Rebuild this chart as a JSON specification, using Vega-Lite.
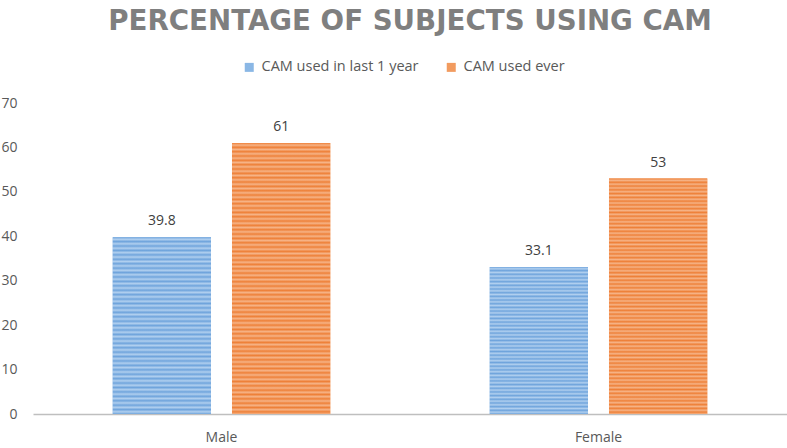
{
  "$schema": "https://vega.github.io/schema/vega-lite/v6.json",
  "width": 754,
  "height": 311,
  "autosize": "none",
  "padding": {"left": 33, "top": 103, "right": 0, "bottom": 34},
  "background": "white",
  "config": {"view": {"stroke": null}},
  "title": {
    "text": "PERCENTAGE OF SUBJECTS USING CAM",
    "font": "DejaVu Sans",
    "fontWeight": "bold",
    "fontSize": 27.7,
    "color": "#7F7F7F",
    "anchor": "middle",
    "frame": "group",
    "offset": 24
  },
  "data": {
    "values": [
      {"gender": "Male", "series": "CAM used in last 1 year", "pct": 39.8},
      {"gender": "Male", "series": "CAM used ever", "pct": 61},
      {"gender": "Female", "series": "CAM used in last 1 year", "pct": 33.1},
      {"gender": "Female", "series": "CAM used ever", "pct": 53}
    ]
  },
  "encoding": {
    "x": {
      "field": "gender",
      "type": "nominal",
      "sort": ["Male", "Female"],
      "scale": {"paddingInner": 0.423, "paddingOuter": 0.2115},
      "axis": {
        "title": null,
        "labelAngle": 0,
        "ticks": false,
        "domainColor": "#BFBFBF",
        "domainWidth": 1.5,
        "labelColor": "#595959",
        "labelFont": "Open Sans",
        "labelFontSize": 14,
        "labelPadding": 16
      }
    },
    "xOffset": {
      "field": "series",
      "type": "nominal",
      "sort": ["CAM used in last 1 year", "CAM used ever"],
      "scale": {"paddingInner": 0.176, "paddingOuter": 0}
    },
    "y": {
      "field": "pct",
      "type": "quantitative",
      "scale": {"domain": [0, 70], "nice": false},
      "axis": {
        "title": null,
        "values": [0, 10, 20, 30, 40, 50, 60, 70],
        "grid": false,
        "domain": false,
        "ticks": false,
        "labelColor": "#595959",
        "labelFont": "Open Sans",
        "labelFontSize": 14,
        "labelPadding": 16
      }
    }
  },
  "layer": [
    {
      "mark": {"type": "bar"},
      "encoding": {
        "color": {
          "field": "series",
          "type": "nominal",
          "sort": ["CAM used in last 1 year", "CAM used ever"],
          "scale": {"range": ["#8AB7E5", "#F29B5F"]},
          "legend": {
            "title": null,
            "orient": "none",
            "direction": "horizontal",
            "legendX": 209,
            "legendY": -43,
            "symbolType": "square",
            "symbolSize": 81,
            "symbolStrokeWidth": 0,
            "labelFont": "Open Sans",
            "labelFontSize": 14.5,
            "labelColor": "#595959",
            "labelOffset": 5,
            "columnPadding": 25
          }
        }
      }
    },
    {
      "mark": {"type": "bar"},
      "encoding": {
        "fill": {
          "condition": {
            "test": "datum.series == 'CAM used ever'",
            "value": {
              "gradient": "linear", "x1": 0, "y1": 0, "x2": 0, "y2": 1,
              "stops": [
                {"offset": 0, "color": "#EE8038"}, {"offset": 0.008, "color": "#F6B386"},
                {"offset": 0.016, "color": "#EE8038"}, {"offset": 0.024, "color": "#F6B386"},
                {"offset": 0.032, "color": "#EE8038"}, {"offset": 0.04, "color": "#F6B386"},
                {"offset": 0.048, "color": "#EE8038"}, {"offset": 0.056, "color": "#F6B386"},
                {"offset": 0.064, "color": "#EE8038"}, {"offset": 0.072, "color": "#F6B386"},
                {"offset": 0.08, "color": "#EE8038"}, {"offset": 0.088, "color": "#F6B386"},
                {"offset": 0.096, "color": "#EE8038"}, {"offset": 0.104, "color": "#F6B386"},
                {"offset": 0.112, "color": "#EE8038"}, {"offset": 0.12, "color": "#F6B386"},
                {"offset": 0.128, "color": "#EE8038"}, {"offset": 0.136, "color": "#F6B386"},
                {"offset": 0.144, "color": "#EE8038"}, {"offset": 0.152, "color": "#F6B386"},
                {"offset": 0.16, "color": "#EE8038"}, {"offset": 0.168, "color": "#F6B386"},
                {"offset": 0.176, "color": "#EE8038"}, {"offset": 0.184, "color": "#F6B386"},
                {"offset": 0.192, "color": "#EE8038"}, {"offset": 0.2, "color": "#F6B386"},
                {"offset": 0.208, "color": "#EE8038"}, {"offset": 0.216, "color": "#F6B386"},
                {"offset": 0.224, "color": "#EE8038"}, {"offset": 0.232, "color": "#F6B386"},
                {"offset": 0.24, "color": "#EE8038"}, {"offset": 0.248, "color": "#F6B386"},
                {"offset": 0.256, "color": "#EE8038"}, {"offset": 0.264, "color": "#F6B386"},
                {"offset": 0.272, "color": "#EE8038"}, {"offset": 0.28, "color": "#F6B386"},
                {"offset": 0.288, "color": "#EE8038"}, {"offset": 0.296, "color": "#F6B386"},
                {"offset": 0.304, "color": "#EE8038"}, {"offset": 0.312, "color": "#F6B386"},
                {"offset": 0.32, "color": "#EE8038"}, {"offset": 0.328, "color": "#F6B386"},
                {"offset": 0.336, "color": "#EE8038"}, {"offset": 0.344, "color": "#F6B386"},
                {"offset": 0.352, "color": "#EE8038"}, {"offset": 0.36, "color": "#F6B386"},
                {"offset": 0.368, "color": "#EE8038"}, {"offset": 0.376, "color": "#F6B386"},
                {"offset": 0.384, "color": "#EE8038"}, {"offset": 0.392, "color": "#F6B386"},
                {"offset": 0.4, "color": "#EE8038"}, {"offset": 0.408, "color": "#F6B386"},
                {"offset": 0.416, "color": "#EE8038"}, {"offset": 0.424, "color": "#F6B386"},
                {"offset": 0.432, "color": "#EE8038"}, {"offset": 0.44, "color": "#F6B386"},
                {"offset": 0.448, "color": "#EE8038"}, {"offset": 0.456, "color": "#F6B386"},
                {"offset": 0.464, "color": "#EE8038"}, {"offset": 0.472, "color": "#F6B386"},
                {"offset": 0.48, "color": "#EE8038"}, {"offset": 0.488, "color": "#F6B386"},
                {"offset": 0.496, "color": "#EE8038"}, {"offset": 0.504, "color": "#F6B386"},
                {"offset": 0.512, "color": "#EE8038"}, {"offset": 0.52, "color": "#F6B386"},
                {"offset": 0.528, "color": "#EE8038"}, {"offset": 0.536, "color": "#F6B386"},
                {"offset": 0.544, "color": "#EE8038"}, {"offset": 0.552, "color": "#F6B386"},
                {"offset": 0.56, "color": "#EE8038"}, {"offset": 0.568, "color": "#F6B386"},
                {"offset": 0.576, "color": "#EE8038"}, {"offset": 0.584, "color": "#F6B386"},
                {"offset": 0.592, "color": "#EE8038"}, {"offset": 0.6, "color": "#F6B386"},
                {"offset": 0.608, "color": "#EE8038"}, {"offset": 0.616, "color": "#F6B386"},
                {"offset": 0.624, "color": "#EE8038"}, {"offset": 0.632, "color": "#F6B386"},
                {"offset": 0.64, "color": "#EE8038"}, {"offset": 0.648, "color": "#F6B386"},
                {"offset": 0.656, "color": "#EE8038"}, {"offset": 0.664, "color": "#F6B386"},
                {"offset": 0.672, "color": "#EE8038"}, {"offset": 0.68, "color": "#F6B386"},
                {"offset": 0.688, "color": "#EE8038"}, {"offset": 0.696, "color": "#F6B386"},
                {"offset": 0.704, "color": "#EE8038"}, {"offset": 0.712, "color": "#F6B386"},
                {"offset": 0.72, "color": "#EE8038"}, {"offset": 0.728, "color": "#F6B386"},
                {"offset": 0.736, "color": "#EE8038"}, {"offset": 0.744, "color": "#F6B386"},
                {"offset": 0.752, "color": "#EE8038"}, {"offset": 0.76, "color": "#F6B386"},
                {"offset": 0.768, "color": "#EE8038"}, {"offset": 0.776, "color": "#F6B386"},
                {"offset": 0.784, "color": "#EE8038"}, {"offset": 0.792, "color": "#F6B386"},
                {"offset": 0.8, "color": "#EE8038"}, {"offset": 0.808, "color": "#F6B386"},
                {"offset": 0.816, "color": "#EE8038"}, {"offset": 0.824, "color": "#F6B386"},
                {"offset": 0.832, "color": "#EE8038"}, {"offset": 0.84, "color": "#F6B386"},
                {"offset": 0.848, "color": "#EE8038"}, {"offset": 0.856, "color": "#F6B386"},
                {"offset": 0.864, "color": "#EE8038"}, {"offset": 0.872, "color": "#F6B386"},
                {"offset": 0.88, "color": "#EE8038"}, {"offset": 0.888, "color": "#F6B386"},
                {"offset": 0.896, "color": "#EE8038"}, {"offset": 0.904, "color": "#F6B386"},
                {"offset": 0.912, "color": "#EE8038"}, {"offset": 0.92, "color": "#F6B386"},
                {"offset": 0.928, "color": "#EE8038"}, {"offset": 0.936, "color": "#F6B386"},
                {"offset": 0.944, "color": "#EE8038"}, {"offset": 0.952, "color": "#F6B386"},
                {"offset": 0.96, "color": "#EE8038"}, {"offset": 0.968, "color": "#F6B386"},
                {"offset": 0.976, "color": "#EE8038"}, {"offset": 0.984, "color": "#F6B386"},
                {"offset": 0.992, "color": "#EE8038"}, {"offset": 1, "color": "#F6B386"}
              ]
            }
          },
          "value": {
            "gradient": "linear", "x1": 0, "y1": 0, "x2": 0, "y2": 1,
            "stops": [
              {"offset": 0, "color": "#6FA4DC"}, {"offset": 0.0125, "color": "#B0CFEF"},
              {"offset": 0.025, "color": "#6FA4DC"}, {"offset": 0.0375, "color": "#B0CFEF"},
              {"offset": 0.05, "color": "#6FA4DC"}, {"offset": 0.0625, "color": "#B0CFEF"},
              {"offset": 0.075, "color": "#6FA4DC"}, {"offset": 0.0875, "color": "#B0CFEF"},
              {"offset": 0.1, "color": "#6FA4DC"}, {"offset": 0.1125, "color": "#B0CFEF"},
              {"offset": 0.125, "color": "#6FA4DC"}, {"offset": 0.1375, "color": "#B0CFEF"},
              {"offset": 0.15, "color": "#6FA4DC"}, {"offset": 0.1625, "color": "#B0CFEF"},
              {"offset": 0.175, "color": "#6FA4DC"}, {"offset": 0.1875, "color": "#B0CFEF"},
              {"offset": 0.2, "color": "#6FA4DC"}, {"offset": 0.2125, "color": "#B0CFEF"},
              {"offset": 0.225, "color": "#6FA4DC"}, {"offset": 0.2375, "color": "#B0CFEF"},
              {"offset": 0.25, "color": "#6FA4DC"}, {"offset": 0.2625, "color": "#B0CFEF"},
              {"offset": 0.275, "color": "#6FA4DC"}, {"offset": 0.2875, "color": "#B0CFEF"},
              {"offset": 0.3, "color": "#6FA4DC"}, {"offset": 0.3125, "color": "#B0CFEF"},
              {"offset": 0.325, "color": "#6FA4DC"}, {"offset": 0.3375, "color": "#B0CFEF"},
              {"offset": 0.35, "color": "#6FA4DC"}, {"offset": 0.3625, "color": "#B0CFEF"},
              {"offset": 0.375, "color": "#6FA4DC"}, {"offset": 0.3875, "color": "#B0CFEF"},
              {"offset": 0.4, "color": "#6FA4DC"}, {"offset": 0.4125, "color": "#B0CFEF"},
              {"offset": 0.425, "color": "#6FA4DC"}, {"offset": 0.4375, "color": "#B0CFEF"},
              {"offset": 0.45, "color": "#6FA4DC"}, {"offset": 0.4625, "color": "#B0CFEF"},
              {"offset": 0.475, "color": "#6FA4DC"}, {"offset": 0.4875, "color": "#B0CFEF"},
              {"offset": 0.5, "color": "#6FA4DC"}, {"offset": 0.5125, "color": "#B0CFEF"},
              {"offset": 0.525, "color": "#6FA4DC"}, {"offset": 0.5375, "color": "#B0CFEF"},
              {"offset": 0.55, "color": "#6FA4DC"}, {"offset": 0.5625, "color": "#B0CFEF"},
              {"offset": 0.575, "color": "#6FA4DC"}, {"offset": 0.5875, "color": "#B0CFEF"},
              {"offset": 0.6, "color": "#6FA4DC"}, {"offset": 0.6125, "color": "#B0CFEF"},
              {"offset": 0.625, "color": "#6FA4DC"}, {"offset": 0.6375, "color": "#B0CFEF"},
              {"offset": 0.65, "color": "#6FA4DC"}, {"offset": 0.6625, "color": "#B0CFEF"},
              {"offset": 0.675, "color": "#6FA4DC"}, {"offset": 0.6875, "color": "#B0CFEF"},
              {"offset": 0.7, "color": "#6FA4DC"}, {"offset": 0.7125, "color": "#B0CFEF"},
              {"offset": 0.725, "color": "#6FA4DC"}, {"offset": 0.7375, "color": "#B0CFEF"},
              {"offset": 0.75, "color": "#6FA4DC"}, {"offset": 0.7625, "color": "#B0CFEF"},
              {"offset": 0.775, "color": "#6FA4DC"}, {"offset": 0.7875, "color": "#B0CFEF"},
              {"offset": 0.8, "color": "#6FA4DC"}, {"offset": 0.8125, "color": "#B0CFEF"},
              {"offset": 0.825, "color": "#6FA4DC"}, {"offset": 0.8375, "color": "#B0CFEF"},
              {"offset": 0.85, "color": "#6FA4DC"}, {"offset": 0.8625, "color": "#B0CFEF"},
              {"offset": 0.875, "color": "#6FA4DC"}, {"offset": 0.8875, "color": "#B0CFEF"},
              {"offset": 0.9, "color": "#6FA4DC"}, {"offset": 0.9125, "color": "#B0CFEF"},
              {"offset": 0.925, "color": "#6FA4DC"}, {"offset": 0.9375, "color": "#B0CFEF"},
              {"offset": 0.95, "color": "#6FA4DC"}, {"offset": 0.9625, "color": "#B0CFEF"},
              {"offset": 0.975, "color": "#6FA4DC"}, {"offset": 0.9875, "color": "#B0CFEF"},
              {"offset": 1, "color": "#6FA4DC"}
            ]
          }
        }
      }
    },
    {
      "mark": {"type": "text", "dy": -12, "baseline": "alphabetic", "font": "Open Sans", "fontSize": 14, "color": "#404040"},
      "encoding": {
        "text": {"field": "pct", "type": "quantitative"}
      }
    }
  ]
}
